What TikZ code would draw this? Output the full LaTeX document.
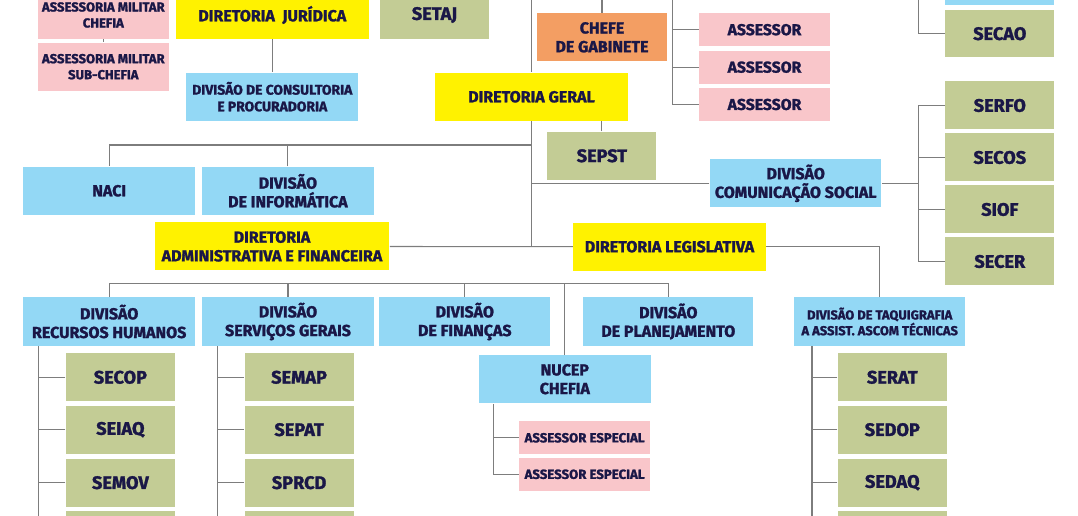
\documentclass[tikz,border=0pt]{standalone}
\usepackage{fontspec}
\newfontfamily\orgfont{Fira Sans}[BoldFeatures={FakeBold=1.5}]
\definecolor{yelfill}{RGB}{255,242,0}
\definecolor{pinkfill}{RGB}{249,198,202}
\definecolor{grnfill}{RGB}{195,204,149}
\definecolor{blufill}{RGB}{147,216,245}
\definecolor{orgfill}{RGB}{243,158,99}
\definecolor{navytext}{RGB}{26,23,71}
\definecolor{linegray}{RGB}{125,125,125}

\tikzset{every picture/.style={line width=0.75pt}}
\tikzset{
  box/.style 2 args={inner sep=0pt, minimum width={#1*0.75pt}, minimum height={#2*0.75pt}, align=center, text=navytext, font=\orgfont\bfseries\fontsize{12}{14}\selectfont},
  dirbox/.style={fill=yelfill},
  divbox/.style={fill=blufill},
  secbox/.style={fill=grnfill, font=\orgfont\bfseries\fontsize{13.6}{16}\selectfont},
  assbox/.style={fill=pinkfill},
  gabbox/.style={fill=orgfill},
  smalltxt/.style={font=\orgfont\bfseries\fontsize{9.8}{12}\selectfont},
  link/.style={draw=linegray, line width=0.8pt}
}

\begin{document}
\begin{tikzpicture}[x=0.75pt,y=0.75pt,yscale=-1,xscale=1]
        \useasboundingbox (0,0) rectangle (1078,516);

        %Boxes top row
        \node [box={131}{48}, assbox, smalltxt] (amc) at (103.3,15) {ASSESSORIA MILITAR\\CHEFIA};
        \node [box={131}{48}, assbox, smalltxt] (ams) at (103.3,66.7) {ASSESSORIA MILITAR\\SUB-CHEFIA};
        \node [box={192.5}{48}, dirbox] (dj) at (272.3,15) {DIRETORIA~ JURÍDICA};
        \node [box={109}{48}, secbox] (setaj) at (434.5,15) {SETAJ};
        \node [box={172}{48}, divbox, font=\orgfont\bfseries\fontsize{10.4}{12.5}\selectfont] (dcp) at (272.3,96.7) {DIVISÃO DE CONSULTORIA\\E PROCURADORIA};
        \node [box={193}{48}, dirbox] (dg) at (531.5,96.8) {DIRETORIA GERAL};
        \node [box={130}{48}, gabbox] (cg) at (602,37.3) {CHEFE\\DE GABINETE};
        \node [box={130.5}{33}, assbox, font=\orgfont\bfseries\fontsize{11.8}{14}\selectfont] (ass1) at (764.5,29.7) {ASSESSOR};
        \node [box={130.5}{33}, assbox, font=\orgfont\bfseries\fontsize{11.8}{14}\selectfont] (ass2) at (764.5,67.2) {ASSESSOR};
        \node [box={130.5}{33}, assbox, font=\orgfont\bfseries\fontsize{11.8}{14}\selectfont] (ass3) at (764.5,104.5) {ASSESSOR};
        \node [box={109}{48}, secbox] (sepst) at (601.9,155.8) {SEPST};

        %Boxes middle
        \node [box={171.5}{48}, divbox] (naci) at (109.2,190.8) {NACI};
        \node [box={171.5}{48}, divbox] (dinf) at (287.9,190.8) {DIVISÃO\\DE INFORMÁTICA};
        \node [box={171.5}{48}, divbox] (dcs) at (795.7,183.3) {DIVISÃO\\COMUNICAÇÃO SOCIAL};
        \node [box={234.7}{48}, dirbox] (daf) at (272,246.5) {DIRETORIA\\ADMINISTRATIVA E FINANCEIRA};
        \node [box={192.3}{48}, dirbox] (dl) at (669.5,246.7) {DIRETORIA LEGISLATIVA};

        %Right column
        \node [box={109}{48}, divbox] (cut) at (999.8,-19.3) {};
        \node [box={109}{47.3}, secbox] (secao) at (999.8,33.7) {SECAO};
        \node [box={109}{48}, secbox] (serfo) at (999.8,105.5) {SERFO};
        \node [box={109}{48}, secbox] (secos) at (999.8,157.5) {SECOS};
        \node [box={109}{48}, secbox] (siof) at (999.8,209.5) {SIOF};
        \node [box={109}{48}, secbox] (secer) at (999.8,261.5) {SECER};

        %Boxes bottom row
        \node [box={171.5}{48.4}, divbox] (drh) at (109.2,321.5) {DIVISÃO\\RECURSOS HUMANOS};
        \node [box={171.5}{48.4}, divbox] (dsg) at (288,321.5) {DIVISÃO\\SERVIÇOS GERAIS};
        \node [box={171}{48.4}, divbox] (dfin) at (464.8,321.5) {DIVISÃO\\DE FINANÇAS};
        \node [box={170}{48.4}, divbox] (dplan) at (668.3,321.5) {DIVISÃO\\DE PLANEJAMENTO};
        \node [box={171}{48.4}, divbox, font=\orgfont\bfseries\fontsize{9.7}{11.8}\selectfont] (dtaq) at (879.7,321.5) {DIVISÃO DE TAQUIGRAFIA\\A ASSIST. ASCOM TÉCNICAS};
        \node [box={171.8}{48.3}, divbox] (nucep) at (564.8,379.2) {NUCEP\\CHEFIA};
        \node [box={130.7}{33}, assbox, font=\orgfont\bfseries\fontsize{9.9}{12}\selectfont] (ae1) at (584.6,437.8) {ASSESSOR ESPECIAL};
        \node [box={130.7}{33}, assbox, font=\orgfont\bfseries\fontsize{9.9}{12}\selectfont] (ae2) at (584.6,474.3) {ASSESSOR ESPECIAL};

        %Sections
        \node [box={109}{48}, secbox] (secop) at (120.4,377.3) {SECOP};
        \node [box={109}{48}, secbox] (seiaq) at (120.4,429.7) {SEIAQ};
        \node [box={109}{48}, secbox] (semov) at (120.4,482.7) {SEMOV};
        \node [box={109}{48}, secbox] (rhlast) at (120.4,534.7) {};
        \node [box={109}{48}, secbox] (semap) at (299.1,377.3) {SEMAP};
        \node [box={109}{48}, secbox] (sepat) at (299.1,429.7) {SEPAT};
        \node [box={109}{48}, secbox] (sprcd) at (299.1,482.7) {SPRCD};
        \node [box={109}{48}, secbox] (sglast) at (299.1,534.7) {};
        \node [box={109}{48}, secbox] (serat) at (892.3,377.3) {SERAT};
        \node [box={109}{48}, secbox] (sedop) at (892.3,429.7) {SEDOP};
        \node [box={109}{48}, secbox] (sedaq) at (892.3,482.7) {SEDAQ};
        \node [box={109}{48}, secbox] (tqlast) at (892.3,534.7) {};

        %Free ends
        \coordinate (trunktop) at (531.5,-20);
        \coordinate (asstop) at (672.5,-20);
        \coordinate (caotop) at (918.5,-20);
        \coordinate (csbus) at (918.5,105.5);
        \coordinate (leftbus) at (531.5,145);
        \coordinate (lowbus) at (109.2,283.3);
        \coordinate (rhbus) at (38.9,560);
        \coordinate (sgbus) at (217.9,560);
        \coordinate (tqbus) at (812,560);
        \coordinate (nubus) at (493.3,420);

        %Straight Lines
        \draw [link] (amc.south) -- (ams.north);
        \draw [link] (dj.south) -- (dcp.north);
        \draw [link] (trunktop) -- (dg.north);
        \draw [link] (dg.south) -- (dg.south |- daf.east);
        \draw [link] (daf.east) -- (dl.west);
        \draw [link] (cg.north) -- ++(0,-20);
        \draw [link] (sepst.north) -- (sepst.north |- dg.south);
        \draw [link] (asstop) |- (ass3.west);
        \draw [link] (ass1.west) -- (ass1.west -| asstop);
        \draw [link] (ass2.west) -- (ass2.west -| asstop);
        \draw [link] (leftbus) -| (naci.north);
        \draw [link] (dinf.north) -- (dinf.north |- leftbus);
        \draw [link] (dcs.west) -- (dcs.west -| leftbus);
        \draw [link] (dcs.east) -- (dcs.east -| csbus);
        \draw [link] (csbus) |- (secer.west);
        \draw [link] (serfo.west) -- (serfo.west -| csbus);
        \draw [link] (secos.west) -- (secos.west -| csbus);
        \draw [link] (siof.west) -- (siof.west -| csbus);
        \draw [link] (caotop) |- (secao.west);
        \draw [link] (dl.east) -| (dtaq.north);
        \draw [link] (drh.north) |- (lowbus) -| (dplan.north);
        \draw [link] (dsg.north) -- (dsg.north |- lowbus);
        \draw [link] (dfin.north) -- (dfin.north |- lowbus);
        \draw [link] (nucep.north) -- (nucep.north |- lowbus);
        \draw [link] (nucep.south -| nubus) |- (ae2.west);
        \draw [link] (ae1.west) -- (ae1.west -| nubus);
        \draw [link] (drh.south -| rhbus) -- (rhbus);
        \draw [link] (secop.west) -- (secop.west -| rhbus);
        \draw [link] (seiaq.west) -- (seiaq.west -| rhbus);
        \draw [link] (semov.west) -- (semov.west -| rhbus);
        \draw [link] (rhlast.west) -- (rhlast.west -| rhbus);
        \draw [link] (dsg.south -| sgbus) -- (sgbus);
        \draw [link] (semap.west) -- (semap.west -| sgbus);
        \draw [link] (sepat.west) -- (sepat.west -| sgbus);
        \draw [link] (sprcd.west) -- (sprcd.west -| sgbus);
        \draw [link] (sglast.west) -- (sglast.west -| sgbus);
        \draw [link] (dtaq.south -| tqbus) -- (tqbus);
        \draw [link] (serat.west) -- (serat.west -| tqbus);
        \draw [link] (sedop.west) -- (sedop.west -| tqbus);
        \draw [link] (sedaq.west) -- (sedaq.west -| tqbus);
        \draw [link] (tqlast.west) -- (tqlast.west -| tqbus);

\end{tikzpicture}
\end{document}
